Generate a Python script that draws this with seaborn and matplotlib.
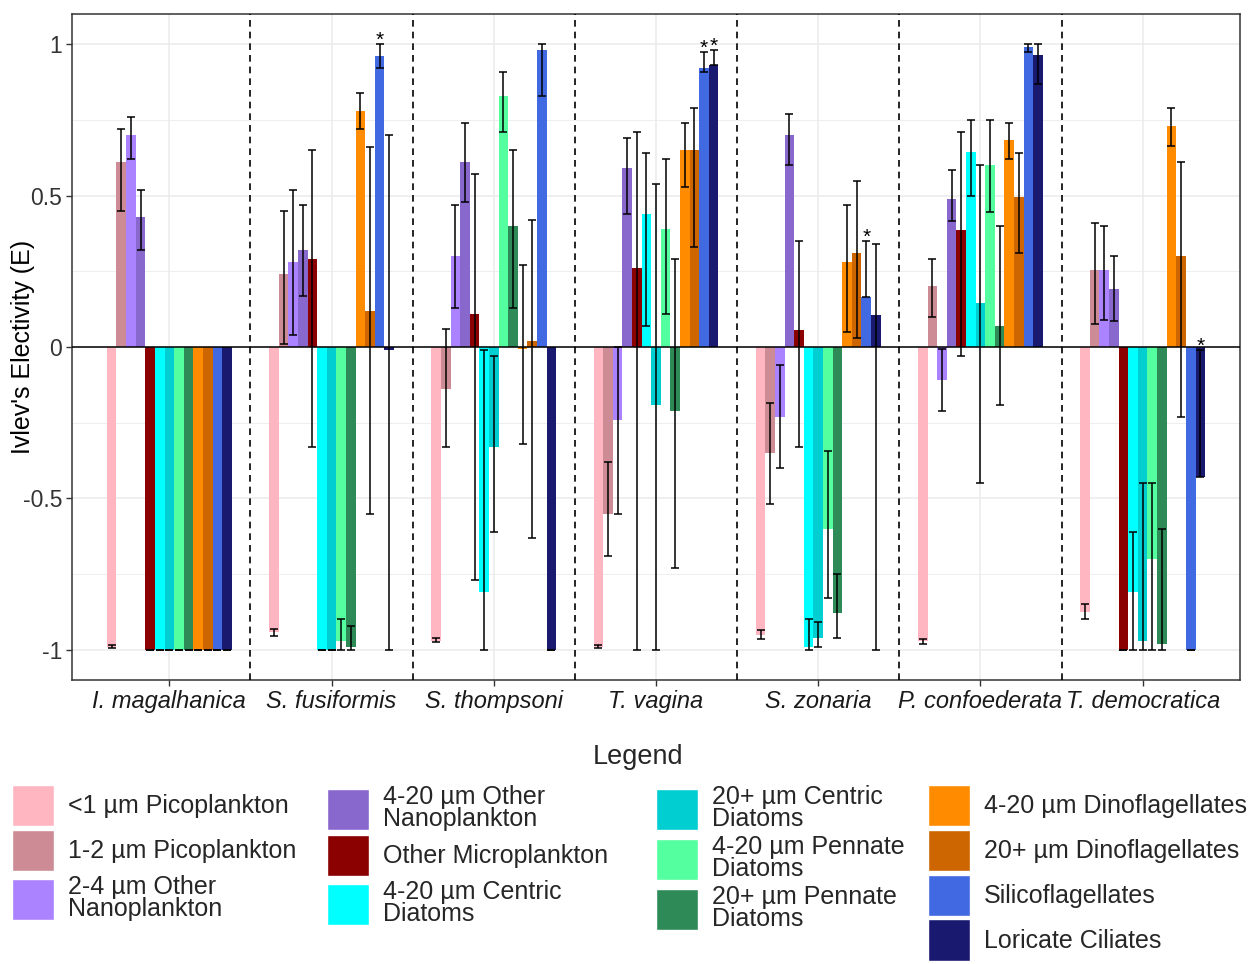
import matplotlib
matplotlib.use("Agg")
import matplotlib.pyplot as plt
from matplotlib.patches import Patch
from matplotlib.ticker import MultipleLocator
import seaborn as sns
import pandas as pd

# Salp species (x groups)
species = ["I. magalhanica", "S. fusiformis", "S. thompsoni", "T. vagina",
           "S. zonaria", "P. confoederata", "T. democratica"]

# Prey groups (hue)
prey = ["<1 µm Picoplankton", "1-2 µm Picoplankton", "2-4 µm Other\nNanoplankton",
        "4-20 µm Other\nNanoplankton", "Other Microplankton", "4-20 µm Centric\nDiatoms",
        "20+ µm Centric\nDiatoms", "4-20 µm Pennate\nDiatoms", "20+ µm Pennate\nDiatoms",
        "4-20 µm Dinoflagellates", "20+ µm Dinoflagellates", "Silicoflagellates",
        "Loricate Ciliates"]
colors = ["#FFB6C1", "#CD8C95", "#AB82FF", "#8968CD", "#8B0000", "#00FFFF", "#00CED1",
          "#54FF9F", "#2E8B57", "#FF8C00", "#CD6600", "#4169E1", "#191970"]

# Electivity (E) and error bar bounds, one list per species
imag_E = [-0.99, 0.61, 0.70, 0.43, -1, -1, -1, -1, -1, -1, -1, -1, -1]
imag_lo = [-0.995, 0.45, 0.62, 0.32, -1, -1, -1, -1, -1, -1, -1, -1, -1]
imag_hi = [-0.985, 0.72, 0.76, 0.52, -1, -1, -1, -1, -1, -1, -1, -1, -1]

sfus_E = [-0.94, 0.24, 0.28, 0.32, 0.29, -1, -1, -0.97, -0.99, 0.78, 0.12, 0.96, -0.01]
sfus_lo = [-0.955, 0.01, 0.04, 0.17, -0.33, -1, -1, -1, -1, 0.72, -0.55, 0.92, -1]
sfus_hi = [-0.93, 0.45, 0.52, 0.47, 0.65, -1, -1, -0.90, -0.92, 0.84, 0.66, 1.0, 0.70]

sthom_E = [-0.97, -0.14, 0.30, 0.61, 0.11, -0.81, -0.33, 0.83, 0.40, -0.005, 0.02, 0.98, -1]
sthom_lo = [-0.975, -0.33, 0.13, 0.48, -0.77, -1, -0.61, 0.71, 0.13, -0.32, -0.63, 0.83, -1]
sthom_hi = [-0.96, 0.06, 0.47, 0.74, 0.57, -0.01, -0.03, 0.91, 0.65, 0.27, 0.42, 1.0, -1]

tvag_E = [-0.99, -0.55, -0.24, 0.59, 0.26, 0.44, -0.19, 0.39, -0.21, 0.65, 0.65, 0.92, 0.93]
tvag_lo = [-0.995, -0.69, -0.55, 0.44, -1, 0.07, -1, 0.11, -0.73, 0.53, 0.33, 0.91, 0.93]
tvag_hi = [-0.985, -0.38, 0.0, 0.69, 0.71, 0.64, 0.54, 0.62, 0.29, 0.74, 0.79, 0.975, 0.98]

szon_E = [-0.95, -0.35, -0.23, 0.70, 0.055, -0.99, -0.96, -0.60, -0.88, 0.28, 0.31, 0.165, 0.105]
szon_lo = [-0.965, -0.52, -0.40, 0.60, -0.33, -1, -0.99, -0.83, -0.96, 0.05, 0.03, 0.165, -1]
szon_hi = [-0.935, -0.185, -0.06, 0.77, 0.35, -0.90, -0.91, -0.345, -0.75, 0.47, 0.55, 0.35, 0.34]

pcon_E = [-0.97, 0.20, -0.11, 0.49, 0.385, 0.645, 0.145, 0.60, 0.07, 0.685, 0.495, 0.99, 0.965]
pcon_lo = [-0.98, 0.10, -0.21, 0.415, -0.03, 0.50, -0.45, 0.445, -0.19, 0.62, 0.31, 0.975, 0.87]
pcon_hi = [-0.965, 0.29, -0.005, 0.585, 0.71, 0.75, 0.60, 0.75, 0.40, 0.74, 0.64, 1.0, 1.0]

tdem_E = [-0.875, 0.255, 0.255, 0.19, -1, -0.81, -0.97, -0.70, -0.98, 0.73, 0.30, -1, -0.43]
tdem_lo = [-0.90, 0.075, 0.09, 0.085, -1, -1, -1, -1, -1, 0.665, -0.23, -1, -0.43]
tdem_hi = [-0.85, 0.41, 0.40, 0.30, -1, -0.61, -0.45, -0.45, -0.60, 0.79, 0.61, -1, -0.01]

all_E = [imag_E, sfus_E, sthom_E, tvag_E, szon_E, pcon_E, tdem_E]
all_lo = [imag_lo, sfus_lo, sthom_lo, tvag_lo, szon_lo, pcon_lo, tdem_lo]
all_hi = [imag_hi, sfus_hi, sthom_hi, tvag_hi, szon_hi, pcon_hi, tdem_hi]

# significant results: (species index, prey index)
stars = [(1, 11), (3, 11), (3, 12), (4, 11), (6, 12)]

rows = []
for s, name in enumerate(species):
    for k, p in enumerate(prey):
        rows.append({"species": name, "prey": p, "E": all_E[s][k]})
df = pd.DataFrame(rows)

sns.set_theme(style="white")
plt.rcParams['font.family'] = ['Liberation Sans', 'DejaVu Sans']

W, H = 1249, 964
fig = plt.figure(figsize=(W / 100, H / 100), dpi=100)
ax = fig.add_axes([72 / W, 1 - 680 / H, (1240 - 72) / W, (680 - 14) / H])

sns.barplot(data=df, x="species", y="E", hue="prey", order=species, hue_order=prey,
            palette=colors, saturation=1, width=0.77, gap=0, errorbar=None,
            linewidth=0, legend=False, ax=ax, zorder=2)

# error bars placed on the bar centres seaborn computed
ex, ey, eup = [], [], []
centres = {}
for k, cont in enumerate(ax.containers):
    for bar in cont:
        xc = bar.get_x() + bar.get_width() / 2
        s = int(round(xc))
        centres[(s, k)] = xc
        ex.append(xc)
        ey.append(all_lo[s][k])
        eup.append(all_hi[s][k] - all_lo[s][k])
ax.errorbar(ex, ey, yerr=[[0] * len(ey), eup], fmt='none', ecolor='black',
            elinewidth=1.1, capsize=2.6, capthick=1.1, zorder=4)

for s, k in stars:
    ax.text(centres[(s, k)], all_hi[s][k] - 0.005, "*", ha='center', va='baseline',
            fontsize=15, color='black', zorder=5)

for b in range(len(species) - 1):
    ax.axvline(b + 0.5, color='black', ls=(0, (4, 3)), lw=1.2, zorder=3)
ax.axhline(0, color='black', lw=1.1, zorder=3)

ax.set_xlim(-0.6, len(species) - 0.4)
ax.set_ylim(-1.1, 1.1)
ax.set_yticks([-1, -0.5, 0, 0.5, 1])
ax.set_yticklabels(["-1", "-0.5", "0", "0.5", "1"])
ax.yaxis.set_minor_locator(MultipleLocator(0.25))
ax.set_axisbelow(True)
ax.grid(which='major', color='#EBEBEB', lw=1.1)
ax.grid(which='minor', axis='y', color='#EBEBEB', lw=0.6)
for sp in ax.spines.values():
    sp.set_color('#333333')
    sp.set_linewidth(1.1)

ax.tick_params(axis='both', which='major', length=4, width=1, color='#333333',
               bottom=True, left=True, pad=3)
ax.tick_params(axis='y', labelsize=16.5, labelcolor='#333333')
ax.tick_params(axis='x', labelsize=17, labelcolor='#1A1A1A')
for t in ax.get_xticklabels():
    t.set_fontstyle('italic')
ax.set_xlabel("")
ax.set_ylabel("Ivlev's Electivity (E)", fontsize=18, color='black')
ax.yaxis.set_label_coords(-0.032, 0.5)

# legend, laid out in four columns
fig.text(638 / W, 1 - 757 / H, "Legend", ha='center', va='center', fontsize=19.5)
cols = [(12, [0, 1, 2]), (327, [3, 4, 5]), (656, [6, 7, 8]), (928, [9, 10, 11, 12])]
for xpos, idx in cols:
    handles = [Patch(facecolor=colors[i], edgecolor='white', linewidth=1.0) for i in idx]
    leg = fig.legend(handles=handles, labels=[prey[i] for i in idx], loc='upper left',
                     bbox_to_anchor=(xpos / W, 1 - 785 / H), frameon=False,
                     borderpad=0, borderaxespad=0, fontsize=18, handlelength=1.68,
                     handleheight=2.15, handletextpad=0.55, labelspacing=0.15)
    for t in leg.get_texts():
        t.set_linespacing(0.9)

fig.savefig("out.png", dpi=100)
